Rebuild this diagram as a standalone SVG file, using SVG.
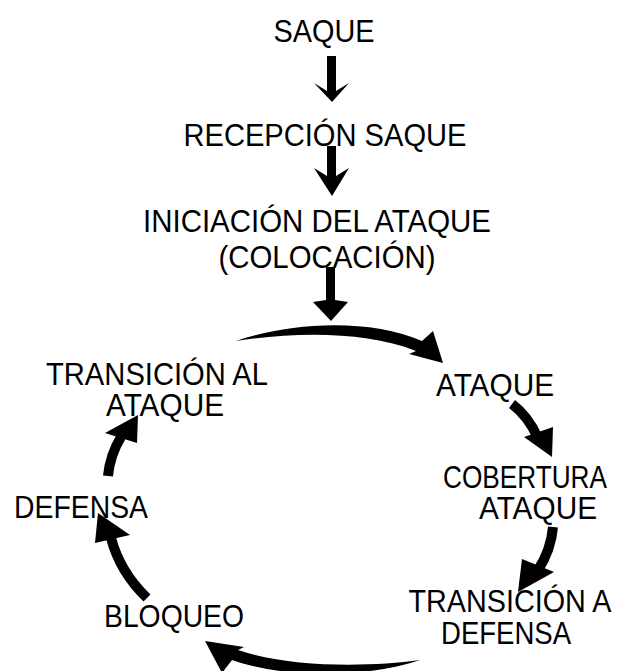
<svg xmlns="http://www.w3.org/2000/svg" width="628" height="671" viewBox="0 0 628 671">
<style>
text{font-family:"Liberation Sans",Arial,sans-serif;font-size:31.5px;fill:#000;text-anchor:middle}
.sh{fill:none;stroke:#000;stroke-width:10}
.hd{fill:#000}
</style>
<rect width="628" height="671" fill="#fff"/>
<g id="connectors">
<polygon class="hd" points="327,56 336,56 336,91 349,83 332,102 314,83 327,91"/>
<polygon class="hd" points="327,146 336,146 336,176 349,168 332,196 314,168 327,176"/>
<polygon class="hd" points="326,267 335,267 335,300 348,302 331,321 313,302 326,300"/>
<path class="hd" d="M236 341 C290 322,370 318,422 341 L433 331 L443 363 L409 354 L416 351 C365 331,295 332,236 341 Z"/>
<path class="sh" d="M512 404 Q528 416 538 438"/>
<polygon class="hd" points="524,437 553,427 552,457"/>
<path class="sh" d="M553 527 Q551 550 538 570"/>
<polygon class="hd" points="522,559 554,572 518,592"/>
<path class="hd" d="M420 660 C370 667,290 668,238 650 L244 647 L205 641 L222 673 L232 660 C290 680,370 677,420 660 Z"/>
<path class="sh" d="M147 598 Q120 572 111 538"/>
<polygon class="hd" points="95,543 98,513 130,535"/>
<path class="sh" d="M108 476 Q110 455 121 437"/>
<polygon class="hd" points="105,433 138,415 137,443"/>
</g>
<g id="saque"><text x="324" y="42" textLength="101" lengthAdjust="spacingAndGlyphs">SAQUE</text></g>
<g id="recepcion"><text x="325" y="146" textLength="283" lengthAdjust="spacingAndGlyphs">RECEPCIÓN SAQUE</text></g>
<g id="iniciacion"><text x="317" y="232" textLength="348" lengthAdjust="spacingAndGlyphs">INICIACIÓN DEL ATAQUE</text><text x="327" y="268" textLength="217" lengthAdjust="spacingAndGlyphs">(COLOCACIÓN)</text></g>
<g id="ataque"><text x="495" y="396" textLength="118" lengthAdjust="spacingAndGlyphs">ATAQUE</text></g>
<g id="cobertura"><text x="525" y="488" textLength="164" lengthAdjust="spacingAndGlyphs">COBERTURA</text><text x="538" y="519" textLength="118" lengthAdjust="spacingAndGlyphs">ATAQUE</text></g>
<g id="transicion-defensa"><text x="510" y="612" textLength="203" lengthAdjust="spacingAndGlyphs">TRANSICIÓN A</text><text x="506" y="644" textLength="130" lengthAdjust="spacingAndGlyphs">DEFENSA</text></g>
<g id="bloqueo"><text x="174" y="627" textLength="140" lengthAdjust="spacingAndGlyphs">BLOQUEO</text></g>
<g id="defensa"><text x="81" y="518" textLength="134" lengthAdjust="spacingAndGlyphs">DEFENSA</text></g>
<g id="transicion-ataque"><text x="157" y="385" textLength="222" lengthAdjust="spacingAndGlyphs">TRANSICIÓN AL</text><text x="165" y="416" textLength="118" lengthAdjust="spacingAndGlyphs">ATAQUE</text></g>
</svg>
